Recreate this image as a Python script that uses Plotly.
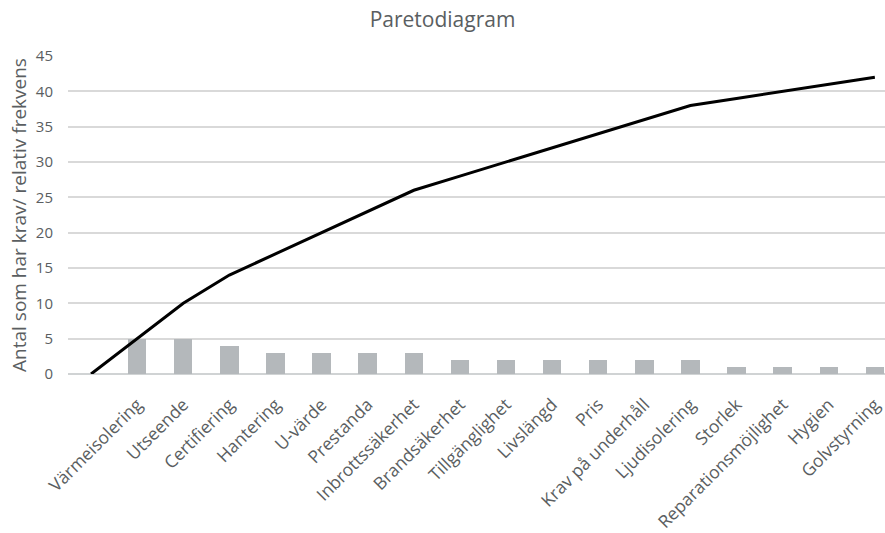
import plotly.graph_objects as go

# Requirement categories (sorted by frequency) and their counts
categories = [
    "Värmeisolering", "Utseende", "Certifiering", "Hantering", "U-värde",
    "Prestanda", "Inbrottssäkerhet", "Brandsäkerhet", "Tillgänglighet",
    "Livslängd", "Pris", "Krav på underhåll", "Ljudisolering", "Storlek",
    "Reparationsmöjlighet", "Hygien", "Golvstyrning",
]
counts = [5, 5, 4, 3, 3, 3, 3, 2, 2, 2, 2, 2, 2, 1, 1, 1, 1]

# Cumulative frequency line, starting from zero one slot before the first category
cumulative = [0, 5, 10, 14, 17, 20, 23, 26, 28, 30, 32, 34, 36, 38, 39, 40, 41, 42]
y_ticks = [0, 5, 10, 15, 20, 25, 30, 35, 40, 45]

positions = list(range(len(categories)))
line_positions = list(range(-1, len(categories)))

text_color = "#5a5e61"
font_family = "Open Sans, Liberation Sans, sans-serif"

fig = go.Figure()
fig.add_trace(go.Bar(
    x=positions, y=counts, width=0.4,
    marker=dict(color="#b4b8bb", line=dict(width=0)),
    showlegend=False,
))
fig.add_trace(go.Scatter(
    x=line_positions, y=cumulative, mode="lines",
    line=dict(color="#000000", width=3),
    showlegend=False,
))

fig.update_layout(
    width=885, height=533,
    margin=dict(l=68, r=0, t=56, b=159, autoexpand=False),
    paper_bgcolor="white", plot_bgcolor="white",
    font=dict(family=font_family, color=text_color),
    title=dict(text="Paretodiagram", x=0.5, xanchor="center", y=0.963, yanchor="middle",
               font=dict(size=21, color=text_color)),
    bargap=0,
)
fig.update_xaxes(
    range=[-1.5, 16.22], tickmode="array", tickvals=positions, ticktext=categories,
    tickangle=-45, tickfont=dict(size=17.5, color=text_color),
    showgrid=False, zeroline=False, showline=False, ticks="",
    ticklabelstandoff=16, automargin=False,
)
fig.update_yaxes(
    range=[0, 45], tickmode="array", tickvals=y_ticks,
    tickfont=dict(size=15, color=text_color),
    showgrid=True, gridcolor="#d9d9d9", gridwidth=1.5,
    zeroline=True, zerolinecolor="#d0d3d4", zerolinewidth=1.5,
    showline=False, ticks="", ticklabelstandoff=14, automargin=False,
    title=dict(text="Antal som har krav/ relativ frekvens", standoff=4,
               font=dict(size=19, color=text_color)),
)

fig.write_html("out.html")
